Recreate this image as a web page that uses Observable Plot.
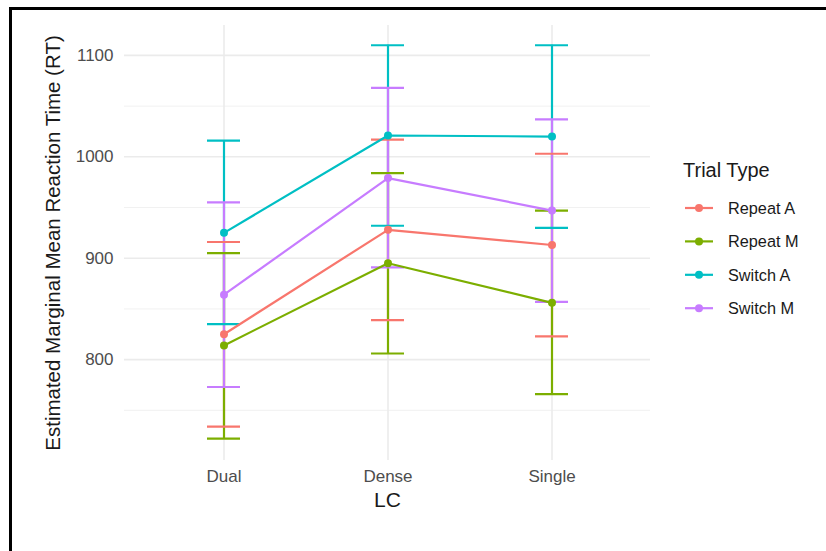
<!DOCTYPE html>
<html>
<head>
<meta charset="utf-8">
<script src="https://cdn.jsdelivr.net/npm/d3@7"></script>
<script src="https://cdn.jsdelivr.net/npm/@observablehq/plot@0.6"></script>
<style>
  body { margin: 0; background: #fff; font-family: "Liberation Sans", Arial, sans-serif; }
  #wrap { position: relative; width: 826px; height: 551px; overflow: hidden; }
  #frame { position: absolute; left: 9px; top: 7px; width: 900px; height: 600px;
           border-top: 3px solid #000; border-left: 3px solid #000; }
  #chart, #legend { position: absolute; left: 0; top: 0; }
</style>
</head>
<body>
<div id="wrap">
  <div id="frame"></div>
  <div id="chart"></div>
  <svg id="legend" width="826" height="551"></svg>
</div>
<script>
// Load condition levels (x axis) and trial types (colour)
const lcLevels = ["Dual", "Dense", "Single"];
const trialTypes = ["Repeat A", "Repeat M", "Switch A", "Switch M"];
const palette = ["#F8766D", "#7CAE00", "#00BFC4", "#C77CFF"];

// Estimated marginal means per trial type, in lcLevels order
const repeatAMean = [825, 928, 913];
const repeatMMean = [814, 895, 856];
const switchAMean = [925, 1021, 1020];
const switchMMean = [864, 979, 947];

// Lower / upper confidence limits, in lcLevels order
const repeatALower = [734, 839, 823];
const repeatAUpper = [916, 1017, 1003];
const repeatMLower = [722, 806, 766];
const repeatMUpper = [905, 984, 947];
const switchALower = [835, 932, 930];
const switchAUpper = [1016, 1110, 1110];
const switchMLower = [773, 891, 857];
const switchMUpper = [955, 1068, 1037];

const yTicks = [800, 900, 1000, 1100];
const yMinorTicks = [750, 850, 950, 1050];

const seriesMeans = [repeatAMean, repeatMMean, switchAMean, switchMMean];
const seriesLower = [repeatALower, repeatMLower, switchALower, switchMLower];
const seriesUpper = [repeatAUpper, repeatMUpper, switchAUpper, switchMUpper];

// Long-format table for Plot
const rows = trialTypes.flatMap((type, s) =>
  lcLevels.map((lc, i) => ({
    type, lc,
    emmean: seriesMeans[s][i],
    lower: seriesLower[s][i],
    upper: seriesUpper[s][i]
  }))
);

const font = "'Liberation Sans', Arial, sans-serif";

const chart = Plot.plot({
  width: 826,
  height: 551,
  marginLeft: 124,
  marginRight: 176,
  marginTop: 25,
  marginBottom: 91,
  style: { fontFamily: font, background: "transparent" },
  x: { type: "band", domain: lcLevels, paddingInner: 0.8, paddingOuter: 0.5 },
  y: { domain: [700.5, 1129.5] },
  color: { domain: trialTypes, range: palette },
  marks: [
    Plot.gridY(yMinorTicks, { stroke: "#f1f1f1", strokeOpacity: 1, strokeWidth: 1 }),
    Plot.gridY(yTicks, { stroke: "#ebebeb", strokeOpacity: 1, strokeWidth: 1.6 }),
    Plot.gridX({ stroke: "#ebebeb", strokeOpacity: 1, strokeWidth: 1.6 }),
    Plot.axisY({ ticks: yTicks, tickFormat: d => String(d), tickSize: 0, tickPadding: 11,
                 fontSize: 17, color: "#4d4d4d", label: null }),
    Plot.axisX({ tickSize: 0, tickPadding: 9, fontSize: 17, color: "#4d4d4d", label: null }),
    // error bars: vertical segment and caps
    Plot.ruleX(rows, { x: "lc", y1: "lower", y2: "upper", stroke: "type", strokeWidth: 2.2 }),
    Plot.tickY(rows, { x: "lc", y: "upper", stroke: "type", strokeWidth: 2.2 }),
    Plot.tickY(rows, { x: "lc", y: "lower", stroke: "type", strokeWidth: 2.2 }),
    // mean lines and points
    Plot.line(rows, { x: "lc", y: "emmean", z: "type", stroke: "type", strokeWidth: 2.2 }),
    Plot.dot(rows, { x: "lc", y: "emmean", fill: "type", r: 4 }),
    // axis titles
    Plot.text(["Estimated Marginal Mean Reaction Time (RT)"], {
      frameAnchor: "left", textAnchor: "middle", rotate: -90, dx: -71,
      fontSize: 20.5, fill: "#1a1a1a"
    }),
    Plot.text(["LC"], { frameAnchor: "bottom", textAnchor: "middle", dy: 46, fontSize: 21, fill: "#1a1a1a" })
  ]
});
document.getElementById("chart").appendChild(chart);

// Legend: line + point key for each trial type
const legend = d3.select("#legend").style("font-family", font);
legend.append("text")
  .attr("x", 683).attr("y", 177)
  .attr("font-size", 20).attr("fill", "#1a1a1a")
  .text("Trial Type");
trialTypes.forEach((t, i) => {
  const cy = 208 + i * 33.4;
  const g = legend.append("g");
  g.append("line").attr("x1", 685).attr("x2", 713).attr("y1", cy).attr("y2", cy)
    .attr("stroke", palette[i]).attr("stroke-width", 2.2);
  g.append("circle").attr("cx", 699).attr("cy", cy).attr("r", 4).attr("fill", palette[i]);
  g.append("text").attr("x", 728).attr("y", cy).attr("dy", "0.35em")
    .attr("font-size", 16.3).attr("fill", "#1a1a1a").text(t);
});
</script>
</body>
</html>
